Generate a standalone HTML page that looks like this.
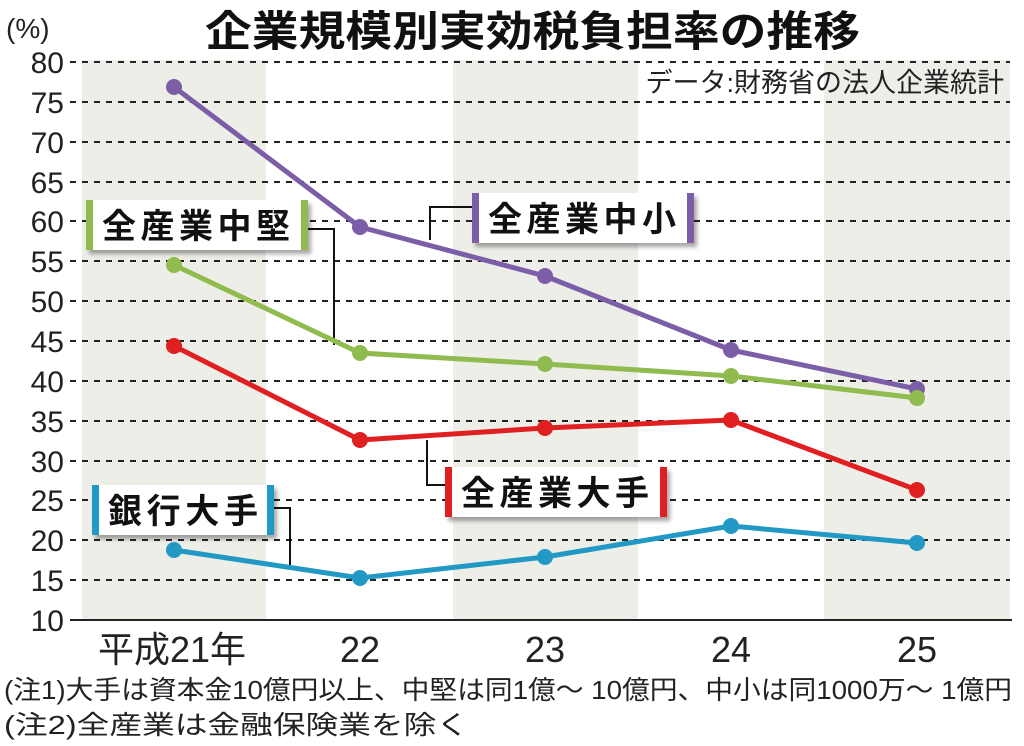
<!DOCTYPE html>
<html><head><meta charset="utf-8"><style>
html,body{margin:0;padding:0;background:#fff;}
svg{display:block;font-family:"Liberation Sans","Noto Sans CJK JP",sans-serif;}
</style></head><body>
<svg width="1024" height="746" viewBox="0 0 1024 746">
<defs><filter id="sh" x="-10%" y="-10%" width="130%" height="140%"><feDropShadow dx="3" dy="4" stdDeviation="2" flood-color="#000" flood-opacity="0.35"/></filter></defs>
<rect x="82" y="60" width="184" height="560" fill="#eeeee9"/>
<rect x="453" y="60" width="185" height="560" fill="#eeeee9"/>
<rect x="824" y="60" width="186" height="560" fill="#eeeee9"/>
<g stroke="#222" stroke-width="2" stroke-dasharray="6,6">
<line x1="70" y1="62" x2="1010" y2="62"/><line x1="70" y1="102" x2="1010" y2="102"/><line x1="70" y1="142" x2="1010" y2="142"/><line x1="70" y1="182" x2="1010" y2="182"/><line x1="70" y1="221" x2="1010" y2="221"/><line x1="70" y1="261" x2="1010" y2="261"/><line x1="70" y1="301" x2="1010" y2="301"/><line x1="70" y1="341" x2="1010" y2="341"/><line x1="70" y1="381" x2="1010" y2="381"/><line x1="70" y1="421" x2="1010" y2="421"/><line x1="70" y1="461" x2="1010" y2="461"/><line x1="70" y1="500" x2="1010" y2="500"/><line x1="70" y1="540" x2="1010" y2="540"/><line x1="70" y1="580" x2="1010" y2="580"/>
</g>
<line x1="70" y1="620" x2="1012" y2="620" stroke="#222" stroke-width="2"/>
<g font-size="30" fill="#222" text-anchor="end">
<text x="64" y="73">80</text><text x="64" y="113">75</text><text x="64" y="153">70</text><text x="64" y="193">65</text><text x="64" y="232">60</text><text x="64" y="272">55</text><text x="64" y="312">50</text><text x="64" y="352">45</text><text x="64" y="392">40</text><text x="64" y="432">35</text><text x="64" y="472">30</text><text x="64" y="511">25</text><text x="64" y="551">20</text><text x="64" y="591">15</text><text x="64" y="631">10</text>
</g>
<text x="6" y="38" font-size="28" fill="#222">(%)</text>
<text x="205" y="46" font-size="42" font-weight="bold" fill="#111" textLength="655" lengthAdjust="spacingAndGlyphs">企業規模別実効税負担率の推移</text>
<text x="1004" y="92" font-size="27" fill="#222" text-anchor="end">データ:財務省の法人企業統計</text>
<g font-size="36" fill="#222" text-anchor="middle">
<text x="172" y="662">平成21年</text><text x="360" y="662">22</text><text x="545" y="662">23</text><text x="731" y="662">24</text><text x="917" y="662">25</text>
</g>
<text x="4" y="699" font-size="26" fill="#222" textLength="1008" lengthAdjust="spacingAndGlyphs">(注1)大手は資本金10億円以上、中堅は同1億～ 10億円、中小は同1000万～ 1億円</text>
<text x="4" y="734" font-size="26" fill="#222" textLength="465" lengthAdjust="spacingAndGlyphs">(注2)全産業は金融保険業を除く</text>
<g fill="none" stroke="#111" stroke-width="2">
<polyline points="308,229 334,229 334,345"/>
<polyline points="472,207 430,207 430,240"/>
<polyline points="445,485 427,485 427,440"/>
<polyline points="274,508 290,508 290,567"/>
</g>
<g fill="none" stroke-width="5" stroke-linejoin="round">
<polyline stroke="#7b5ea7" points="174,87 360,227 545,276 731,350 917,389"/>
<polyline stroke="#8fbb4f" points="174,265 360,353 545,364 731,376 917,398"/>
<polyline stroke="#e02020" points="174,346 360,440 545,428 731,420 917,490"/>
<polyline stroke="#2299c4" points="174,550 360,578 545,557 731,526 917,543"/>
</g>
<g fill="#7b5ea7"><circle cx="174" cy="87" r="8"/><circle cx="360" cy="227" r="8"/><circle cx="545" cy="276" r="8"/><circle cx="731" cy="350" r="8"/><circle cx="917" cy="389" r="8"/></g>
<g fill="#8fbb4f"><circle cx="174" cy="265" r="8"/><circle cx="360" cy="353" r="8"/><circle cx="545" cy="364" r="8"/><circle cx="731" cy="376" r="8"/><circle cx="917" cy="398" r="8"/></g>
<g fill="#e02020"><circle cx="174" cy="346" r="8"/><circle cx="360" cy="440" r="8"/><circle cx="545" cy="428" r="8"/><circle cx="731" cy="420" r="8"/><circle cx="917" cy="490" r="8"/></g>
<g fill="#2299c4"><circle cx="174" cy="550" r="8"/><circle cx="360" cy="578" r="8"/><circle cx="545" cy="557" r="8"/><circle cx="731" cy="526" r="8"/><circle cx="917" cy="543" r="8"/></g>
<g font-size="34" font-weight="bold" fill="#111">
<rect x="86" y="200" width="222" height="50" fill="#fff" filter="url(#sh)"/>
<rect x="86" y="200" width="7" height="50" fill="#8fbb4f"/><rect x="301" y="200" width="7" height="50" fill="#8fbb4f"/>
<text x="102" y="238" textLength="188" lengthAdjust="spacing">全産業中堅</text>
<rect x="472" y="193" width="222" height="50" fill="#fff" filter="url(#sh)"/>
<rect x="472" y="193" width="7" height="50" fill="#7b5ea7"/><rect x="687" y="193" width="7" height="50" fill="#7b5ea7"/>
<text x="488" y="231" textLength="188" lengthAdjust="spacing">全産業中小</text>
<rect x="445" y="467" width="222" height="50" fill="#fff" filter="url(#sh)"/>
<rect x="445" y="467" width="7" height="50" fill="#e02020"/><rect x="660" y="467" width="7" height="50" fill="#e02020"/>
<text x="461" y="505" textLength="188" lengthAdjust="spacing">全産業大手</text>
<rect x="92" y="485" width="182" height="50" fill="#fff" filter="url(#sh)"/>
<rect x="92" y="485" width="7" height="50" fill="#2299c4"/><rect x="267" y="485" width="7" height="50" fill="#2299c4"/>
<text x="108" y="523" textLength="150" lengthAdjust="spacing">銀行大手</text>
</g>
</svg>
</body></html>
